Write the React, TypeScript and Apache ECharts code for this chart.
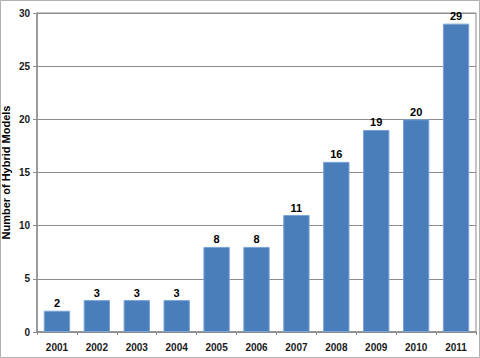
import React, { useEffect, useRef } from "react";
import * as echarts from "echarts";

const years = ["2001", "2002", "2003", "2004", "2005", "2006", "2007", "2008", "2009", "2010", "2011"];
const models = [2, 3, 3, 3, 8, 8, 11, 16, 19, 20, 29];
const yAxisTitle = "Number of Hybrid Models";

export default function App() {
  const ref = useRef<HTMLDivElement>(null);
  useEffect(() => {
    document.body.style.margin = "0";
    const chart = echarts.init(ref.current!, null, { renderer: "svg" });
    const font = "Arial, 'Liberation Sans', sans-serif";
    chart.setOption({
      animation: false,
      backgroundColor: "#ffffff",
      graphic: [
        {
          type: "rect",
          shape: { x: 0.5, y: 0.5, width: 479, height: 357 },
          style: { fill: "none", stroke: "#b0b0b0", lineWidth: 1 },
          silent: true,
          z: 100,
        },
      ],
      grid: {
        left: 37,
        right: 4,
        top: 13,
        bottom: 26,
        containLabel: false,
        outerBoundsMode: "none",
        show: true,
        borderColor: "#8c8c8c",
        borderWidth: 1,
        backgroundColor: "transparent",
      },
      xAxis: {
        type: "category",
        data: years,
        axisLine: { lineStyle: { color: "#8c8c8c", width: 1.5 } },
        axisTick: { show: true, length: 3, lineStyle: { color: "#8c8c8c" } },
        axisLabel: { color: "#1a1a1a", fontFamily: font, fontWeight: "bold", fontSize: 10, margin: 10 },
      },
      yAxis: {
        type: "value",
        min: 0,
        max: 30,
        interval: 5,
        name: yAxisTitle,
        nameLocation: "middle",
        nameGap: 26,
        nameMoveOverlap: false,
        nameTextStyle: { color: "#000", fontFamily: font, fontWeight: "bold", fontSize: 11 },
        axisLine: { show: true, lineStyle: { color: "#8c8c8c", width: 1.5 } },
        axisTick: { show: true, length: 4, lineStyle: { color: "#8c8c8c" } },
        axisLabel: { color: "#1a1a1a", fontFamily: font, fontWeight: "bold", fontSize: 10, margin: 7 },
        splitLine: { show: true, lineStyle: { color: "#8c8c8c", width: 1.2 } },
      },
      series: [
        {
          type: "bar",
          data: models,
          barCategoryGap: "34%",
          itemStyle: { color: "#4a7ebb", borderColor: "#7aa3d6", borderWidth: 1 },
          label: {
            show: true,
            position: "top",
            distance: 2,
            color: "#000",
            fontFamily: font,
            fontWeight: "bold",
            fontSize: 11,
          },
        },
      ],
    });
    return () => chart.dispose();
  }, []);
  return <div ref={ref} style={{ width: 480, height: 358 }} />;
}
